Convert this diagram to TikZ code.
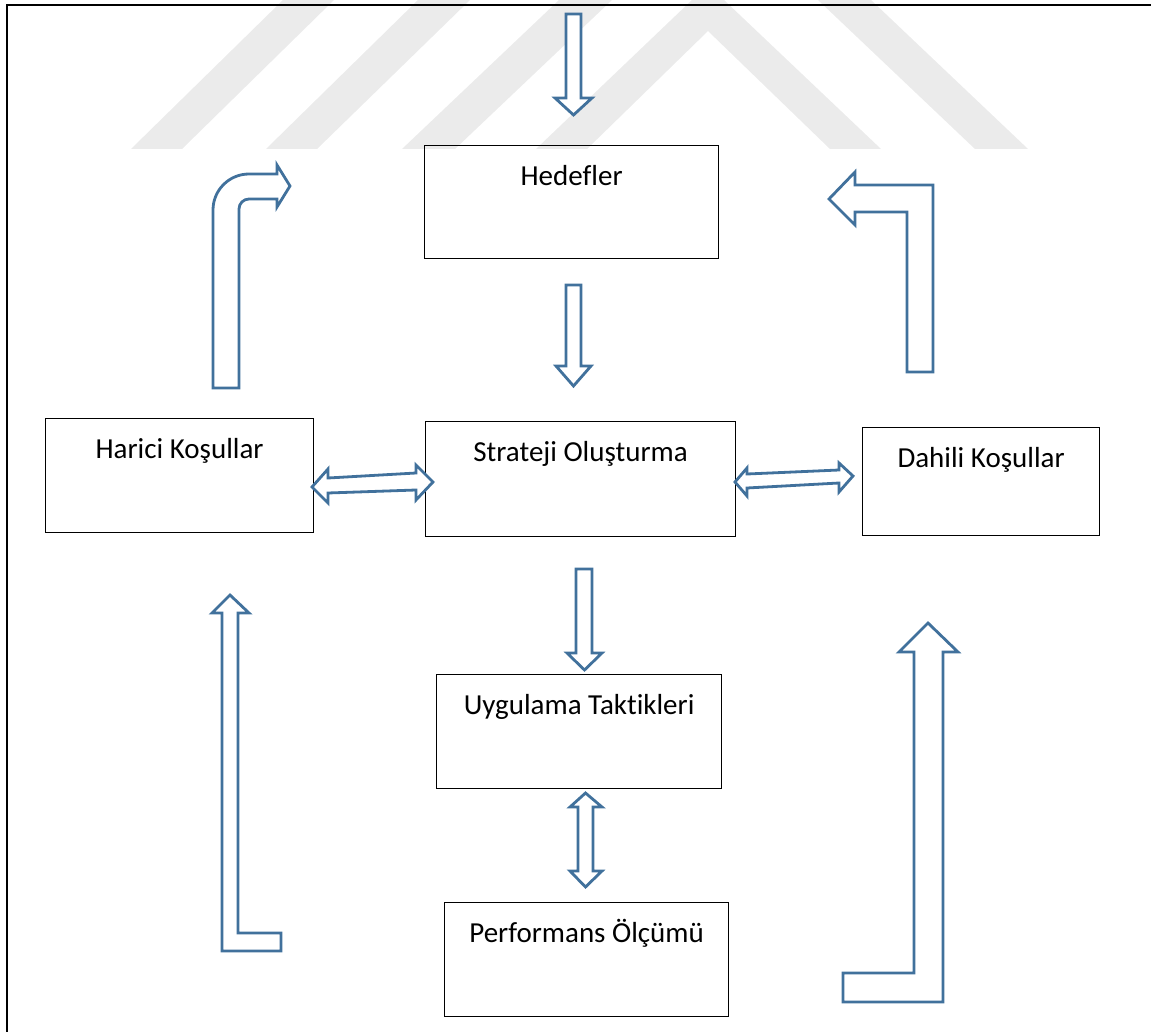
\documentclass[tikz,border=0pt]{standalone}
\usepackage{fontspec}
\setmainfont{Carlito}[Ligatures={NoCommon,NoContextual}]
\definecolor{arrowblue}{HTML}{41719C}
\definecolor{markgray}{HTML}{EBEBEB}

\begin{document}
\begin{tikzpicture}[x=1pt,y=-1pt,
	box/.style={draw,line width=1.2pt,anchor=north west,inner sep=0pt,text height=40pt,font=\fontsize{29}{35}\selectfont},
	blockarrow/.style={draw=arrowblue,fill=white,line width=2.8pt,line join=miter},
	wmark/.style={fill=markgray}]
			\useasboundingbox (0,0) rectangle (1151,1032);
			
			\fill[wmark] (131,149) -- (182,149) -- (334,0) -- (283,0) -- cycle;
			\fill[wmark] (266,149) -- (317,149) -- (470,0) -- (418,0) -- cycle;
			\fill[wmark] (402,149) -- (455,149) -- (612,0) -- (559,0) -- cycle;
			\fill[wmark] (975,149) -- (1028,149) -- (871,0) -- (818,0) -- cycle;
			\fill[wmark] (536,149) -- (587,149) -- (708,31) -- (830,149) -- (881,149) -- (724,0) -- (692,0) -- cycle;
			
			\draw[line width=2.5pt] (7,1032) -- (7,5) -- (1151,5);
			
			\node[box,minimum width=294pt,text depth=73pt] (hed) at (424,145) {Hedefler};
			\node[box,minimum width=310pt,text depth=75pt] (str) at (425,421) {Strateji Oluşturma};
			\node[box,minimum width=268pt,text depth=74pt] (har) at (45,418) {Harici Koşullar};
			\node[box,minimum width=237pt,text depth=68pt] (dah) at (862,427) {Dahili Koşullar};
			\node[box,minimum width=285pt,text depth=74pt] (uyg) at (436,674) {Uygulama Taktikleri};
			\node[box,minimum width=284pt,text depth=74pt] (per) at (444,902) {Performans Ölçümü};
			
			\draw[blockarrow] (566,14) -- (581,14) -- (581,98) -- (592,98) -- (573.5,115) -- (555,98) -- (566,98) -- cycle;
			\draw[blockarrow] (566,285) -- (581,285) -- (581,366) -- (591,366) -- (573.5,386) -- (556,366) -- (566,366) -- cycle;
			\draw[blockarrow] (576,569) -- (592,569) -- (592,653) -- (602,653) -- (584.5,670) -- (567,653) -- (576,653) -- cycle;
			\draw[blockarrow] (585.5,793) -- (602,807) -- (593,807) -- (593,871) -- (602,871) -- (585.5,887) -- (570,871) -- (578,871) -- (578,807) -- (570,807) -- cycle;
			
			\draw[blockarrow] (312,487) -- (328,469) -- (328,478) -- (416,473) -- (416,465) -- (433,482) -- (416,500) -- (416,490) -- (328,493) -- (328,503) -- cycle;
			\draw[blockarrow] (735,482) -- (747,468) -- (747,474) -- (839,470) -- (839,463) -- (853,476) -- (839,492) -- (839,483) -- (747,488) -- (747,496) -- cycle;
			
			\draw[blockarrow] (213,388) -- (213,210) arc (180:270:36) -- (277,174) -- (277,165) -- (290,186) -- (277,207) -- (277,199) -- (249,199) arc (270:180:10) -- (239,388) -- cycle;
			\draw[blockarrow] (829,199) -- (855,172) -- (855,185) -- (933,185) -- (933,372) -- (907,372) -- (907,212) -- (855,212) -- (855,225) -- cycle;
			\draw[blockarrow] (230,595) -- (249,613) -- (238,613) -- (238,933) -- (281,933) -- (281,951) -- (222,951) -- (222,613) -- (212,613) -- cycle;
			\draw[blockarrow] (928,623) -- (958,652) -- (943,652) -- (943,1002) -- (843,1002) -- (843,973) -- (914,973) -- (914,652) -- (899,652) -- cycle;
\end{tikzpicture}
\end{document}
